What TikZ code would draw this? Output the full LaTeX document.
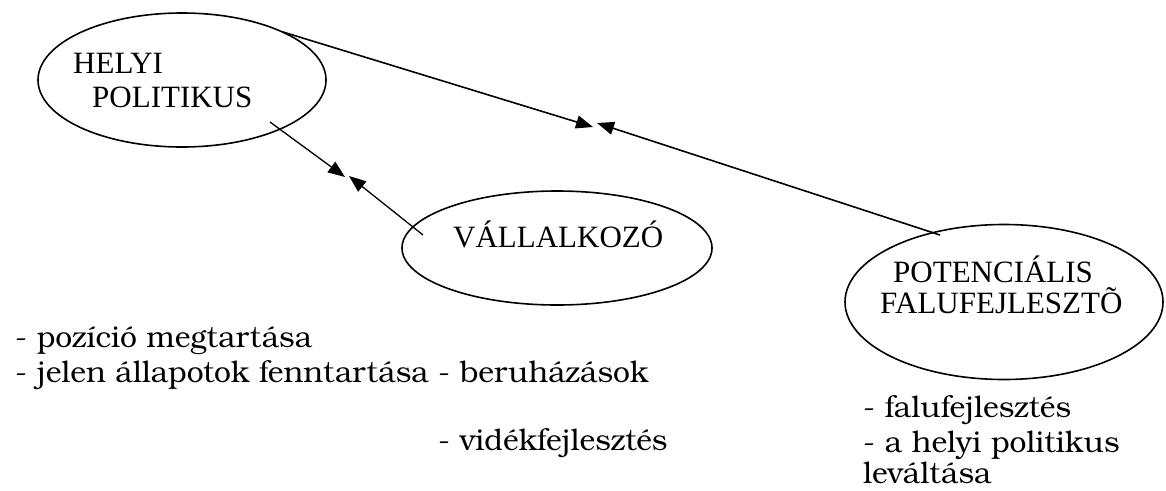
\documentclass[tikz,border=0pt]{standalone}
\usepackage{fontspec}
\setmainfont{Liberation Serif}
\newfontfamily\bk{texgyrebonum-regular.otf}
\usetikzlibrary{arrows.meta,shapes.geometric}
\begin{document}
\begin{tikzpicture}[x=1pt,y=-1pt,
  oval/.style={draw, ellipse, line width=1.6pt, inner sep=0pt, outer sep=0pt},
  lbl/.style={anchor=base west, inner sep=0pt, font=\fontsize{31}{37}\selectfont},
  note/.style={anchor=base west, inner sep=0pt, font=\bk\fontsize{30}{36}\selectfont},
  link/.style={line width=1.6pt, -{Triangle[length=17pt,width=13pt]}},
  slink/.style={line width=1.3pt, -{Triangle[length=17pt,width=13pt]}}]
\useasboundingbox (0,0) rectangle (1166,490);
% ellipses
\node[oval, minimum width=288pt, minimum height=134pt] (hp) at (182,80) {};
\node[oval, minimum width=310pt, minimum height=114pt] (va) at (557,248) {};
\node[oval, minimum width=318pt, minimum height=155pt] (pf) at (1004,302) {};
% labels
\node[lbl] (t1) at (73,73) {HELYI};
\node[lbl] (t2) at (92,107) {POLITIKUS};
\node[lbl] (t3) at (453,247) {VÁLLALKOZÓ};
\node[lbl] (t4) at (893,282) {POTENCIÁLIS};
\node[lbl] (t5) at (880,313) {FALUFEJLESZTÕ};
% notes
\node[note] (n11) at (15,347) {- pozíció megtartása};
\node[note] (n12) at (15,382) {- jelen állapotok fenntartása};
\node[note] (n21) at (438,382) {- beruházások};
\node[note] (n22) at (438,450) {- vidékfejlesztés};
\node[note] (n31) at (863,417) {- falufejlesztés};
\node[note] (n32) at (863,452) {- a helyi politikus};
\node[note] (n33) at (863,483) {leváltása};
% connector ends
\coordinate (a1) at (283,32);
\coordinate (m1) at (593,127);
\coordinate (m2) at (597,123);
\coordinate (a2) at (940,235);
\coordinate (b1) at (270,122);
\coordinate (k1) at (345,177);
\coordinate (k2) at (349,176);
\coordinate (b2) at (423,235);
\draw[link] (a1) -- (m1);
\draw[link] (a2) -- (m2);
\draw[slink] (b1) -- (k1);
\draw[slink] (b2) -- (k2);
\end{tikzpicture}
\end{document}
